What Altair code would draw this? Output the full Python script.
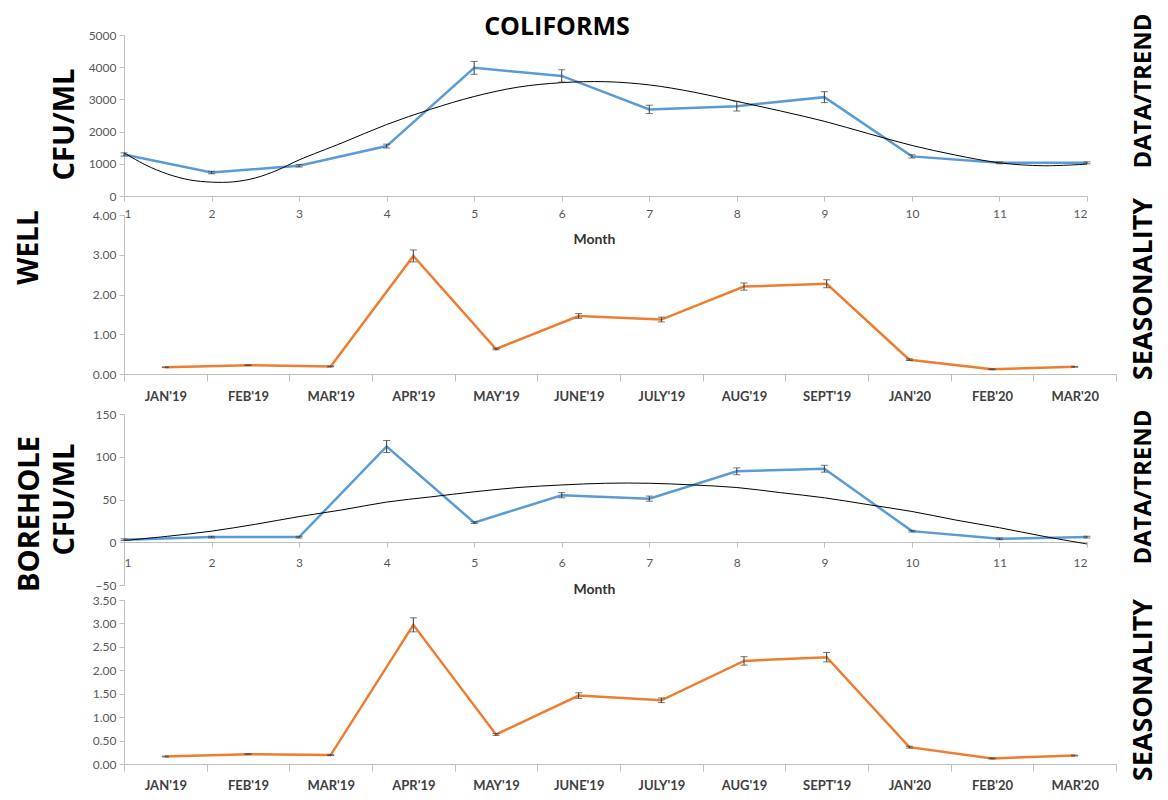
import altair as alt
import pandas as pd

# ---------------- data ----------------
month_num = list(range(1, 13))
season_months = ["JAN'19", "FEB'19", "MAR'19", "APR'19", "MAY'19", "JUNE'19",
                 "JULY'19", "AUG'19", "SEPT'19", "JAN'20", "FEB'20", "MAR'20"]

well_cfu = [1290, 730, 940, 1550, 3980, 3730, 2690, 2790, 3070, 1230, 1030, 1030]
well_cfu_err = [50, 40, 40, 60, 200, 190, 130, 150, 170, 50, 30, 30]
well_trend_x = [1, 1.25, 1.5, 1.75, 2, 2.25, 2.5, 2.75, 3, 3.5, 4, 4.5, 5, 5.5, 6,
                6.5, 7, 7.5, 8, 8.5, 9, 9.5, 10, 10.5, 11, 11.5, 12]
well_trend_y = [1340, 960, 680, 500, 430, 440, 560, 800, 1120, 1660, 2220, 2690, 3090,
                3380, 3520, 3550, 3450, 3230, 2940, 2640, 2320, 1940, 1570, 1270,
                1030, 940, 990]
well_season = [0.17, 0.22, 0.19, 2.97, 0.63, 1.46, 1.37, 2.20, 2.27, 0.36, 0.12, 0.18]
well_season_err = [0.01, 0.01, 0.01, 0.15, 0.02, 0.06, 0.06, 0.09, 0.10, 0.02, 0.01, 0.01]

bh_cfu = [3, 6, 6, 112, 23, 55, 51, 83, 86, 13, 4, 6]
bh_cfu_err = [1, 1, 1, 7, 1, 3, 3, 4, 4, 1, 1, 1]
bh_trend_x = [1, 1.5, 2, 2.5, 3, 3.5, 4, 4.5, 5, 5.5, 6, 6.5, 7, 7.5, 8, 8.5, 9,
              9.5, 10, 10.5, 11, 11.5, 12]
bh_trend_y = [2, 7, 13, 21, 30, 38, 47, 53, 59, 64, 67, 69, 69, 67, 64, 58, 52,
              44, 36, 26, 17, 7, -2]
bh_season = [0.16, 0.21, 0.19, 2.97, 0.63, 1.46, 1.36, 2.20, 2.28, 0.36, 0.12, 0.18]
bh_season_err = [0.01, 0.01, 0.01, 0.15, 0.02, 0.06, 0.05, 0.09, 0.10, 0.02, 0.01, 0.01]

title_text = "COLIFORMS"
site_labels = ["WELL", "BOREHOLE"]
unit_label = "CFU/ML"
row_labels = ["DATA/TREND", "SEASONALITY"]
month_title = "Month"

# ---------------- style ----------------
BLUE = "#5B9BD5"
ORANGE = "#ED7D31"
ERRC = "#3A3A3A"
AXC = "#BFBFBF"
LABC = "#595959"
BIG = "Open Sans"
SMALL = "Lato"
W1 = 963
W2 = 992
RX = 1020


def text_label(txt, x, y, size, angle=270):
    return alt.Chart(pd.DataFrame({"t": [txt]})).mark_text(
        font=BIG, fontSize=size, fontWeight="bold", color="black",
        angle=angle, align="center", baseline="middle"
    ).encode(text="t:N", x=alt.value(x), y=alt.value(y))


def y_axis(values, fmt, title="", title_x=0, title_y=0, title_size=29):
    kw = dict(values=values, format=fmt, grid=False, domainColor=AXC, tickColor=AXC,
              tickSize=5, labelFont=SMALL, labelFontSize=12, labelColor=LABC,
              labelPadding=3)
    if title:
        kw.update(title=title, titleX=title_x, titleY=title_y, titleAngle=270,
                  titleAlign="center", titleBaseline="middle", titleFont=BIG,
                  titleFontSize=title_size, titleFontWeight="bold", titleColor="black")
    else:
        kw.update(title=None)
    return alt.Axis(**kw)


def data_panel(vals, errs, tx, ty, ydom, yvals, height, unit_y, month_y, label_pad, ax_offset):
    df = pd.DataFrame({"m": month_num, "v": vals,
                       "lo": [v - e for v, e in zip(vals, errs)],
                       "hi": [v + e for v, e in zip(vals, errs)]})
    tdf = pd.DataFrame({"m": tx, "v": ty})
    xs = alt.Scale(domain=[1, 12], nice=False, zero=False)
    ys = alt.Scale(domain=ydom, nice=False, zero=False)
    xax = alt.Axis(values=month_num, format="d", grid=False, domainColor=AXC,
                   tickColor=AXC, tickSize=5, labelFont=SMALL, labelFontSize=12,
                   labelColor=LABC, labelPadding=label_pad, offset=ax_offset,
                   title=month_title, titleX=470, titleY=month_y, titleAlign="center",
                   titleBaseline="middle", titleFont=SMALL, titleFontSize=14,
                   titleFontWeight="bold", titleColor="#333333")
    yax = y_axis(yvals, "d", unit_label, -60, unit_y)

    def enc(field):
        return dict(x=alt.X("m:Q", scale=xs, axis=xax),
                    y=alt.Y(field, scale=ys, axis=yax))

    base = alt.Chart(df)
    line = base.mark_line(color=BLUE, strokeWidth=2.5).encode(**enc("v:Q"))
    trend = alt.Chart(tdf).mark_line(color="black", strokeWidth=1,
                                     interpolate="catmull-rom").encode(**enc("v:Q"))
    rule = base.mark_rule(color=ERRC, strokeWidth=1).encode(**enc("lo:Q"), y2="hi:Q")
    cap_lo = base.mark_tick(color=ERRC, orient="horizontal", size=7, thickness=1).encode(**enc("lo:Q"))
    cap_hi = base.mark_tick(color=ERRC, orient="horizontal", size=7, thickness=1).encode(**enc("hi:Q"))
    return alt.layer(line, trend, rule, cap_lo, cap_hi).properties(width=W1, height=height)


def season_panel(vals, errs, ydom, yvals, height, label_pad, site=None, site_y=0):
    df = pd.DataFrame({"m": season_months, "v": vals,
                       "lo": [v - e for v, e in zip(vals, errs)],
                       "hi": [v + e for v, e in zip(vals, errs)]})
    xs = alt.Scale(type="band", domain=season_months, paddingInner=0, paddingOuter=0)
    ys = alt.Scale(domain=ydom, nice=False, zero=False)
    xax = alt.Axis(title=None, labelAngle=0, tickBand="extent", grid=False,
                   domainColor=AXC, tickColor=AXC, tickSize=7, labelFont=SMALL,
                   labelFontSize=13, labelFontWeight="bold", labelColor="#404040",
                   labelPadding=label_pad)
    if site:
        yax = y_axis(yvals, ".2f", site, -95, site_y, 28)
    else:
        yax = y_axis(yvals, ".2f")

    def enc(field):
        return dict(x=alt.X("m:N", scale=xs, sort=season_months, axis=xax),
                    y=alt.Y(field, scale=ys, axis=yax))

    base = alt.Chart(df)
    line = base.mark_line(color=ORANGE, strokeWidth=2.5).encode(**enc("v:Q"))
    rule = base.mark_rule(color=ERRC, strokeWidth=1).encode(**enc("lo:Q"), y2="hi:Q")
    cap_lo = base.mark_tick(color=ERRC, orient="horizontal", size=7, thickness=1).encode(**enc("lo:Q"))
    cap_hi = base.mark_tick(color=ERRC, orient="horizontal", size=7, thickness=1).encode(**enc("hi:Q"))
    return alt.layer(line, rule, cap_lo, cap_hi).properties(width=W2, height=height)


# panel 1: well data / trend
p1 = alt.layer(
    data_panel(well_cfu, well_cfu_err, well_trend_x, well_trend_y, [0, 5000],
               [0, 1000, 2000, 3000, 4000, 5000], 161, 89, 43, 7, 0),
    text_label(title_text, 433, -8, 25, angle=0),
    text_label(row_labels[0], RX, 56, 24),
).properties(width=W1, height=161)

# panel 2: well seasonality
p2 = alt.layer(
    season_panel(well_season, well_season_err, [0, 4], [0, 1, 2, 3, 4], 159, 9,
                 site=site_labels[0], site_y=32),
    text_label(row_labels[1], RX, 74, 27),
).properties(width=W2, height=159)

# panel 3: borehole data / trend
p3 = alt.layer(
    data_panel(bh_cfu, bh_cfu_err, bh_trend_x, bh_trend_y, [-50, 150],
               [-50, 0, 50, 100, 150], 171, 85, 47, 10, -43),
    text_label(site_labels[1], -94, 100, 29),
    text_label(row_labels[0], RX, 73, 24),
).properties(width=W1, height=171)

# panel 4: borehole seasonality
p4 = alt.layer(
    season_panel(bh_season, bh_season_err, [0, 3.5],
                 [0, 0.5, 1, 1.5, 2, 2.5, 3, 3.5], 164, 8),
    text_label(row_labels[1], RX, 90, 27),
).properties(width=W2, height=164)


def spacer(h):
    return alt.Chart(pd.DataFrame({"s": [0]})).mark_point(opacity=0).properties(width=10, height=h)


chart = alt.vconcat(
    p1, spacer(19), p2, spacer(40), p3, spacer(15), p4,
    spacing=0, bounds="flush"
).properties(
    padding={"left": 7, "top": 5, "right": 2, "bottom": 0}
).configure_view(strokeWidth=0).configure_axis(grid=False)

chart.save("out.html", embed_options={"renderer": "svg", "actions": False})
